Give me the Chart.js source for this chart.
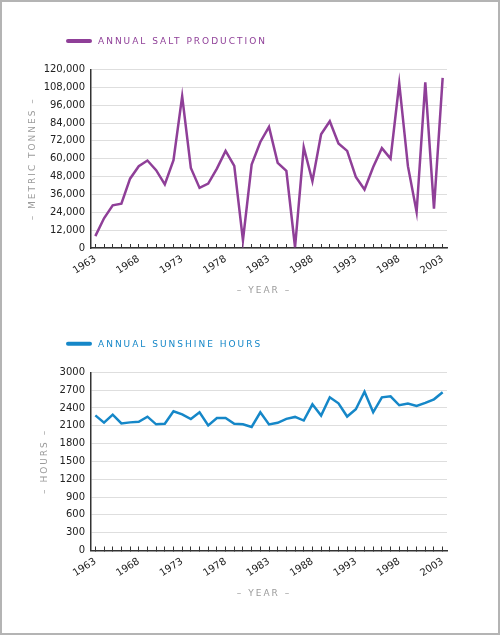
<!DOCTYPE html>
<html>
<head>
<meta charset="utf-8">
<script src="https://cdn.jsdelivr.net/npm/chart.js@4"></script>
<style>
  html, body { margin: 0; padding: 0; background: #fff; }
  #frame { position: absolute; left: 0; top: 0; width: 500px; height: 635px; box-sizing: border-box; border: 2px solid #b4b4b4; }
  canvas { position: absolute; left: 0; }
  #c1 { top: 0; }
  #c2 { top: 320px; }
</style>
</head>
<body>
<div id="frame"></div>
<canvas id="c1" width="500" height="320"></canvas>
<canvas id="c2" width="500" height="315"></canvas>
<script>
const years = [];
for (let y = 1963; y <= 2003; y++) years.push(String(y));

// annual salt production, metric tonnes
const saltValues = [
  8000, 20000, 28700, 29800, 46600, 55000, 58800, 52300, 42800, 59000,
  102000, 53800, 40400, 43300, 53400, 65300, 55200, 5200, 56100, 71300,
  81400, 57200, 51800, 500, 67700, 44900, 76500, 85200, 70200, 65300,
  47800, 39300, 54500, 67100, 60100, 110600, 55000, 24200, 111300, 26500,
  114400
];

// annual sunshine hours
const sunValues = [
  2275, 2152, 2287, 2140, 2157, 2168, 2253, 2124, 2135, 2343,
  2292, 2213, 2326, 2107, 2230, 2230, 2135, 2124, 2080, 2326,
  2122, 2150, 2216, 2249, 2188, 2461, 2271, 2579, 2478, 2255,
  2378, 2674, 2327, 2579, 2596, 2445, 2473, 2434, 2484, 2545,
  2663
];

const saltTicks = { min: 0, max: 120000, step: 12000 };
const sunTicks = { min: 0, max: 3000, step: 300 };

Chart.defaults.font.family = '"DejaVu Sans", Verdana, sans-serif';
Chart.defaults.font.size = 10;
Chart.defaults.color = '#222';

// legend + axis titles drawn by hand so they can get letter spacing
const decor = {
  id: 'decor',
  afterDraw(chart, args, opts) {
    const ctx = chart.ctx;
    const area = chart.chartArea;
    ctx.save();
    const ly = area.top - 28.5;
    ctx.strokeStyle = opts.color;
    ctx.lineWidth = 4;
    ctx.lineCap = 'round';
    ctx.beginPath();
    ctx.moveTo(68, ly);
    ctx.lineTo(90, ly);
    ctx.stroke();

    ctx.font = '9px "DejaVu Sans", Verdana, sans-serif';
    ctx.letterSpacing = '2px';
    ctx.textBaseline = 'middle';
    ctx.fillStyle = opts.color;
    ctx.textAlign = 'left';
    ctx.fillText(chart.data.datasets[0].label.toUpperCase(), 98, ly + 0.5);

    ctx.fillStyle = '#9a9a9a';
    ctx.textAlign = 'center';
    ctx.fillText('\u2013 YEAR \u2013', 264, area.bottom + 43);

    ctx.translate(opts.yTitleX, (area.top + area.bottom) / 2);
    ctx.rotate(-Math.PI / 2);
    ctx.fillText(opts.yTitle, 0, 0);
    ctx.restore();
  }
};

function makeChart(id, label, values, color, tk, fmt, top, xHeight, yTitle, yTitleX) {
  return new Chart(document.getElementById(id).getContext('2d'), {
    type: 'line',
    data: {
      labels: years,
      datasets: [{
        label: label,
        data: values,
        borderColor: color,
        backgroundColor: color,
        borderWidth: 2.5,
        pointRadius: 0,
        tension: 0,
        fill: false
      }]
    },
    options: {
      responsive: false,
      animation: false,
      layout: { padding: { left: 0, right: 53, top: top, bottom: 0 } },
      plugins: {
        legend: { display: false },
        tooltip: { enabled: false },
        decor: { color: color, yTitle: yTitle, yTitleX: yTitleX }
      },
      scales: {
        x: {
          offset: true,
          afterFit: (s) => { s.height = xHeight; },
          grid: { offset: false, drawOnChartArea: false, drawTicks: true, tickLength: -4, color: '#333', lineWidth: 1 },
          border: { color: '#333', width: 1.5 },
          ticks: {
            autoSkip: false,
            minRotation: 33,
            maxRotation: 33,
            padding: 9,
            callback: (v, i) => (i % 5 === 0 ? years[i] : '')
          }
        },
        y: {
          min: tk.min,
          max: tk.max,
          afterFit: (s) => { s.width = 91; },
          grid: { drawTicks: false, color: '#dedede', lineWidth: 1 },
          border: { color: '#333', width: 1.5 },
          ticks: { stepSize: tk.step, padding: 6, callback: fmt }
        }
      }
    },
    plugins: [decor]
  });
}

makeChart('c1', 'Annual salt production', saltValues, '#8f3f98', saltTicks,
  (v) => v.toLocaleString('en-US'), 69.5, 72, '\u2013 METRIC TONNES \u2013', 33);
makeChart('c2', 'Annual sunshine hours', sunValues, '#1587c8', sunTicks,
  (v) => String(v), 52.3, 84.5, '\u2013 HOURS \u2013', 45);
</script>
</body>
</html>
